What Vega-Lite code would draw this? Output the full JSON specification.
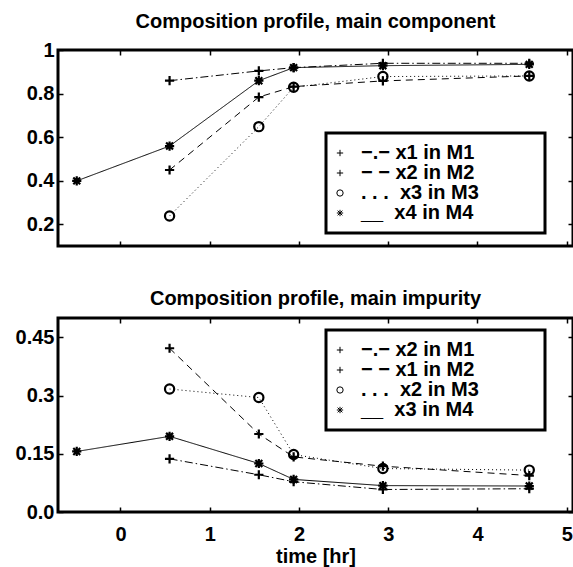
{
  "$schema": "https://vega.github.io/schema/vega-lite/v6.json",
  "padding": {"left": 0, "top": 10, "right": 0, "bottom": 0},
  "autosize": {"type": "pad"},
  "background": "white",
  "datasets": {
    "top": [
      {"t": 0.55, "v": 0.859, "s": "M1"}, {"t": 1.55, "v": 0.904, "s": "M1"}, {"t": 1.94, "v": 0.919, "s": "M1"}, {"t": 2.94, "v": 0.939, "s": "M1"}, {"t": 4.58, "v": 0.939, "s": "M1"},
      {"t": 0.55, "v": 0.449, "s": "M2"}, {"t": 1.55, "v": 0.784, "s": "M2"}, {"t": 1.94, "v": 0.832, "s": "M2"}, {"t": 2.94, "v": 0.858, "s": "M2"}, {"t": 4.58, "v": 0.881, "s": "M2"},
      {"t": 0.55, "v": 0.238, "s": "M3"}, {"t": 1.55, "v": 0.648, "s": "M3"}, {"t": 1.94, "v": 0.829, "s": "M3"}, {"t": 2.94, "v": 0.878, "s": "M3"}, {"t": 4.58, "v": 0.881, "s": "M3"},
      {"t": -0.49, "v": 0.399, "s": "M4"}, {"t": 0.55, "v": 0.559, "s": "M4"}, {"t": 1.55, "v": 0.859, "s": "M4"}, {"t": 1.94, "v": 0.919, "s": "M4"}, {"t": 2.94, "v": 0.928, "s": "M4"}, {"t": 4.58, "v": 0.934, "s": "M4"}
    ],
    "bot": [
      {"t": 0.55, "v": 0.137, "s": "M1"}, {"t": 1.55, "v": 0.096, "s": "M1"}, {"t": 1.94, "v": 0.078, "s": "M1"}, {"t": 2.94, "v": 0.058, "s": "M1"}, {"t": 4.58, "v": 0.060, "s": "M1"},
      {"t": 0.55, "v": 0.422, "s": "M2"}, {"t": 1.55, "v": 0.201, "s": "M2"}, {"t": 1.94, "v": 0.142, "s": "M2"}, {"t": 2.94, "v": 0.118, "s": "M2"}, {"t": 4.58, "v": 0.094, "s": "M2"},
      {"t": 0.55, "v": 0.317, "s": "M3"}, {"t": 1.55, "v": 0.295, "s": "M3"}, {"t": 1.94, "v": 0.148, "s": "M3"}, {"t": 2.94, "v": 0.112, "s": "M3"}, {"t": 4.58, "v": 0.108, "s": "M3"},
      {"t": -0.49, "v": 0.156, "s": "M4"}, {"t": 0.55, "v": 0.195, "s": "M4"}, {"t": 1.55, "v": 0.125, "s": "M4"}, {"t": 1.94, "v": 0.084, "s": "M4"}, {"t": 2.94, "v": 0.068, "s": "M4"}, {"t": 4.58, "v": 0.067, "s": "M4"}
    ]
  },
  "spacing": 38,
  "vconcat": [
    {
      "title": {"text": "Composition profile, main component"},
      "width": 515,
      "height": 196,
      "data": {"name": "top"},
      "layer": [
        {
          "mark": {"type": "line", "color": "black", "strokeWidth": 1},
          "encoding": {
            "x": {"field": "t", "type": "quantitative", "scale": {"domain": [-0.7, 5.07], "nice": false, "zero": false},
                  "axis": {"orient": "bottom", "labels": false, "title": null, "values": [0, 1, 2, 3, 4, 5], "tickSize": -5, "minExtent": 0, "maxExtent": 0}},
            "y": {"field": "v", "type": "quantitative", "scale": {"domain": [0.1, 1.0], "nice": false, "zero": false},
                  "axis": {"orient": "left", "title": null, "values": [0.2, 0.4, 0.6, 0.8, 1.0], "labelExpr": "datum.value == 1 ? '1' : format(datum.value, '.1f')", "tickSize": -5, "labelPadding": 9, "minExtent": 56, "maxExtent": 56}},
            "detail": {"field": "s", "type": "nominal"},
            "strokeDash": {"condition": [{"test": "datum.s == 'M1'", "value": [8, 3, 1.5, 3]}, {"test": "datum.s == 'M2'", "value": [7, 5]}, {"test": "datum.s == 'M3'", "value": [1, 3]}], "value": [1, 0]}
          }
        },
        {
          "mark": {"type": "point", "color": "black", "filled": false, "strokeWidth": 2.2, "size": 85, "opacity": 1},
          "encoding": {
            "x": {"field": "t", "type": "quantitative", "scale": {"domain": [-0.7, 5.07], "nice": false, "zero": false},
                  "axis": {"orient": "top", "labels": false, "title": null, "values": [0, 1, 2, 3, 4, 5], "tickSize": -5, "minExtent": 0, "maxExtent": 0}},
            "y": {"field": "v", "type": "quantitative", "scale": {"domain": [0.1, 1.0], "nice": false, "zero": false},
                  "axis": {"orient": "right", "labels": false, "title": null, "values": [0.2, 0.4, 0.6, 0.8, 1.0], "tickSize": -5, "minExtent": 0, "maxExtent": 0}},
            "shape": {"field": "s", "type": "nominal",
                      "scale": {"domain": ["M1", "M2", "M3", "M4"], "range": ["M-1,0L1,0M0,-1L0,1", "M-1,0L1,0M0,-1L0,1", "circle", "M-1,0L1,0M0,-1L0,1M-0.75,-0.75L0.75,0.75M-0.75,0.75L0.75,-0.75"]},
                      "legend": {"orient": "none", "legendX": 268, "legendY": 83, "title": null,
                                 "labelExpr": "(datum.label == 'M1' ? '\u2212.\u2212 x1 in M1' : datum.label == 'M2' ? '\u2212 \u2212 x2 in M2' : datum.label == 'M3' ? '. . .\u00a0\u00a0x3 in M3' : '__\u00a0\u00a0x4 in M4') + '\u00a0\u00a0\u00a0\u00a0\u00a0\u00a0\u00a0\u00a0\u00a0\u00a0\u200b'"}}
          }
        }
      ],
      "resolve": {"axis": {"x": "independent", "y": "independent"}}
    },
    {
      "title": {"text": "Composition profile, main impurity"},
      "width": 515,
      "height": 194,
      "data": {"name": "bot"},
      "layer": [
        {
          "mark": {"type": "line", "color": "black", "strokeWidth": 1},
          "encoding": {
            "x": {"field": "t", "type": "quantitative", "scale": {"domain": [-0.7, 5.07], "nice": false, "zero": false},
                  "axis": {"orient": "bottom", "title": "time [hr]", "values": [0, 1, 2, 3, 4, 5], "tickSize": -5, "labelPadding": 17, "titlePadding": 2}},
            "y": {"field": "v", "type": "quantitative", "scale": {"domain": [0, 0.5], "nice": false, "zero": false},
                  "axis": {"orient": "left", "title": null, "values": [0, 0.15, 0.3, 0.45], "labelExpr": "datum.value == 0 ? '0.0' : datum.value == 0.15 ? '0.15' : datum.value == 0.3 ? '0.3' : '0.45'", "tickSize": -5, "labelPadding": 9, "minExtent": 56, "maxExtent": 56}},
            "detail": {"field": "s", "type": "nominal"},
            "strokeDash": {"condition": [{"test": "datum.s == 'M1'", "value": [8, 3, 1.5, 3]}, {"test": "datum.s == 'M2'", "value": [7, 5]}, {"test": "datum.s == 'M3'", "value": [1, 3]}], "value": [1, 0]}
          }
        },
        {
          "mark": {"type": "point", "color": "black", "filled": false, "strokeWidth": 2.2, "size": 85, "opacity": 1},
          "encoding": {
            "x": {"field": "t", "type": "quantitative", "scale": {"domain": [-0.7, 5.07], "nice": false, "zero": false},
                  "axis": {"orient": "top", "labels": false, "title": null, "values": [0, 1, 2, 3, 4, 5], "tickSize": -5, "minExtent": 0, "maxExtent": 0}},
            "y": {"field": "v", "type": "quantitative", "scale": {"domain": [0, 0.5], "nice": false, "zero": false},
                  "axis": {"orient": "right", "labels": false, "title": null, "values": [0, 0.15, 0.3, 0.45], "tickSize": -5, "minExtent": 0, "maxExtent": 0}},
            "shape": {"field": "s", "type": "nominal",
                      "scale": {"domain": ["M1", "M2", "M3", "M4"], "range": ["M-1,0L1,0M0,-1L0,1", "M-1,0L1,0M0,-1L0,1", "circle", "M-1,0L1,0M0,-1L0,1M-0.75,-0.75L0.75,0.75M-0.75,0.75L0.75,-0.75"]},
                      "legend": {"orient": "none", "legendX": 268, "legendY": 12, "title": null,
                                 "labelExpr": "(datum.label == 'M1' ? '\u2212.\u2212 x2 in M1' : datum.label == 'M2' ? '\u2212 \u2212 x1 in M2' : datum.label == 'M3' ? '. . .\u00a0\u00a0x2 in M3' : '__\u00a0\u00a0x3 in M4') + '\u00a0\u00a0\u00a0\u00a0\u00a0\u00a0\u00a0\u00a0\u00a0\u00a0\u200b'"}}
          }
        }
      ],
      "resolve": {"axis": {"x": "independent", "y": "independent"}}
    }
  ],
  "resolve": {"scale": {"shape": "independent"}, "legend": {"shape": "independent"}},
  "config": {
    "font": "Liberation Sans",
    "view": {"stroke": "black", "strokeWidth": 3},
    "axis": {"grid": false, "domain": false, "tickColor": "black", "tickWidth": 1.5,
             "labelFont": "Liberation Sans", "labelFontSize": 20, "labelFontWeight": "bold", "labelColor": "black",
             "titleFont": "Liberation Sans", "titleFontSize": 20, "titleFontWeight": "bold", "titleColor": "black"},
    "title": {"font": "Liberation Sans", "fontSize": 20, "fontWeight": "bold", "color": "black", "anchor": "middle", "frame": "group", "baseline": "bottom", "offset": 8},
    "legend": {"strokeColor": "black", "strokeWidth": 3, "fillColor": "white", "padding": 10, "rowPadding": -1,
               "labelFont": "Liberation Sans", "labelFontSize": 20, "labelFontWeight": "bold", "labelColor": "black", "labelLimit": 400, "labelOffset": 11,
               "symbolOffset": -6, "symbolSize": 40, "symbolStrokeWidth": 1, "symbolStrokeColor": "black", "symbolFillColor": "transparent"}
  }
}
